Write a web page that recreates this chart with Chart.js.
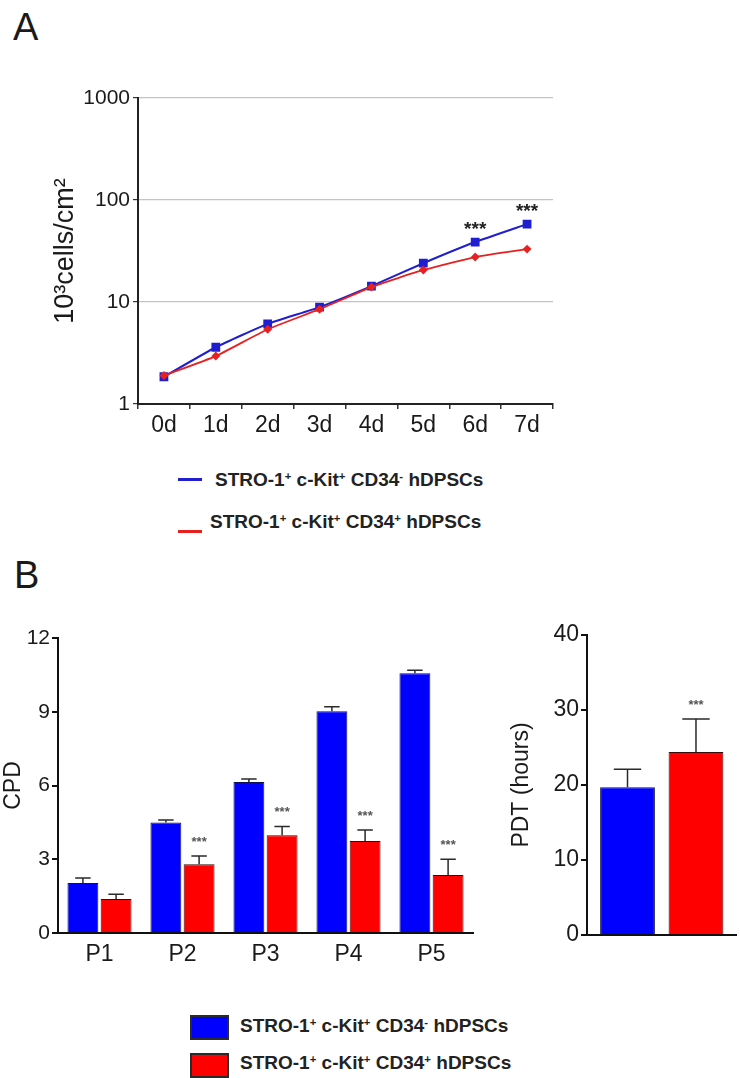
<!DOCTYPE html>
<html>
<head>
<meta charset="utf-8">
<script src="https://cdn.jsdelivr.net/npm/chart.js@4.4.1/dist/chart.umd.min.js"></script>
<style>
  body { margin: 0; background: #fff; font-family: 'Liberation Sans', Arial, sans-serif; color: #1a1a1a; }
  #page { position: relative; width: 740px; height: 1078px; overflow: hidden; }
  canvas { position: absolute; }
  .panel { position: absolute; font-size: 38px; line-height: 1; }
  .leg { position: absolute; font-weight: bold; font-size: 19px; line-height: 1; white-space: nowrap; color: #222; }
  .leg sup { font-size: 60%; vertical-align: 0.55em; line-height: 0; }
  .line { position: absolute; height: 3px; width: 24px; }
  .box { position: absolute; width: 35px; height: 21px; border: 2px solid #2a2a2a; }
</style>
</head>
<body>
<div id="page">
  <div class="panel" style="left:13px; top:8px;">A</div>
  <div class="panel" style="left:14px; top:556px;">B</div>

  <canvas id="growth" width="580" height="460" style="left:0; top:0;"></canvas>
  <canvas id="cpd" width="480" height="380" style="left:0; top:600px;"></canvas>
  <canvas id="pdt" width="240" height="380" style="left:500px; top:600px;"></canvas>

  <div class="line" style="left:178px; top:478px; background:#1f1fd0;"></div>
  <div class="leg" style="left:215px; top:470px;">STRO-1<sup>+</sup> c-Kit<sup>+</sup> CD34<sup>-</sup> hDPSCs</div>
  <div class="line" style="left:178px; top:530px; background:#e82020;"></div>
  <div class="leg" style="left:210px; top:512px;">STRO-1<sup>+</sup> c-Kit<sup>+</sup> CD34<sup>+</sup> hDPSCs</div>

  <div class="box" style="left:190px; top:1015px; background:#0000ff;"></div>
  <div class="leg" style="left:240px; top:1016px;">STRO-1<sup>+</sup> c-Kit<sup>+</sup> CD34<sup>-</sup> hDPSCs</div>
  <div class="box" style="left:190px; top:1053px; background:#ff0000;"></div>
  <div class="leg" style="left:240px; top:1053px;">STRO-1<sup>+</sup> c-Kit<sup>+</sup> CD34<sup>+</sup> hDPSCs</div>
</div>

<script>
'use strict';

// panel A: growth curve (10^3 cells/cm^2, log scale)
const days = ['0d', '1d', '2d', '3d', '4d', '5d', '6d', '7d'];
const growthNeg = [1.85, 3.6, 6.1, 8.9, 14.3, 24, 38.7, 58];
const growthPos = [1.9, 2.95, 5.4, 8.5, 14.0, 20.6, 27.6, 33];
const growthStars = ['', '', '', '', '', '', '***', '***'];
const growthTicks = [1, 10, 100, 1000];

// panel B left: cumulative population doublings
const passages = ['P1', 'P2', 'P3', 'P4', 'P5'];
const cpdNeg = [2.03, 4.5, 6.14, 9.02, 10.57];
const cpdNegErr = [0.21, 0.1, 0.12, 0.18, 0.12];
const cpdPos = [1.38, 2.8, 3.98, 3.74, 2.36];
const cpdPosErr = [0.2, 0.33, 0.35, 0.45, 0.64];
const cpdStars = ['', '***', '***', '***', '***'];

// panel B right: population doubling time
const pdtLabels = [''];
const pdtNeg = [19.7];
const pdtNegErr = [2.4];
const pdtPos = [24.4];
const pdtPosErr = [4.4];
const pdtStars = ['***'];

const BLUE = '#0000ff';
const RED = '#ff0000';
const INK = '#1a1a1a';

Chart.defaults.font.family = "'Liberation Sans', Arial, sans-serif";
Chart.defaults.color = INK;

const lineStarsPlugin = {
  id: 'lineStars',
  afterDatasetsDraw(chart) {
    const ctx = chart.ctx;
    chart.data.datasets.forEach((ds, i) => {
      if (!ds.stars) return;
      const meta = chart.getDatasetMeta(i);
      meta.data.forEach((pt, j) => {
        if (!ds.stars[j]) return;
        ctx.save();
        ctx.fillStyle = '#222';
        ctx.font = "bold 19px 'Liberation Sans', Arial, sans-serif";
        ctx.textAlign = 'center';
        ctx.textBaseline = 'middle';
        ctx.fillText(ds.stars[j], pt.x, pt.y - 12);
        ctx.restore();
      });
    });
  }
};

const errorBarPlugin = {
  id: 'errorBars',
  afterDatasetsDraw(chart) {
    const ctx = chart.ctx;
    const yScale = chart.scales.y;
    chart.data.datasets.forEach((ds, i) => {
      const meta = chart.getDatasetMeta(i);
      meta.data.forEach((bar, j) => {
        const top = yScale.getPixelForValue(ds.data[j] + ds.errors[j]);
        const cap = bar.width * 0.25;
        ctx.save();
        ctx.strokeStyle = '#2a2a2a';
        ctx.lineWidth = 1.5;
        ctx.beginPath();
        ctx.moveTo(bar.x, bar.y);
        ctx.lineTo(bar.x, top);
        ctx.moveTo(bar.x - cap, top);
        ctx.lineTo(bar.x + cap, top);
        ctx.stroke();
        if (ds.stars && ds.stars[j]) {
          ctx.fillStyle = '#555';
          ctx.font = "bold 13px 'Liberation Sans', Arial, sans-serif";
          ctx.textAlign = 'center';
          ctx.textBaseline = 'middle';
          ctx.fillText(ds.stars[j], bar.x, top - 14);
        }
        ctx.restore();
      });
    });
  }
};

new Chart(document.getElementById('growth'), {
  type: 'line',
  data: {
    labels: days,
    datasets: [
      {
        data: growthPos,
        borderColor: '#e82020',
        backgroundColor: '#e82020',
        borderWidth: 1.8,
        pointStyle: 'rectRot',
        pointRadius: 3.2,
        tension: 0.15
      },
      {
        data: growthNeg,
        stars: growthStars,
        borderColor: '#1f1fd0',
        backgroundColor: '#1f1fd0',
        borderWidth: 2,
        pointStyle: 'rect',
        pointRadius: 4.8,
        tension: 0.15
      }
    ]
  },
  options: {
    responsive: false,
    animation: false,
    layout: { padding: { top: 98, right: 27, left: 0, bottom: 0 } },
    plugins: { legend: { display: false }, tooltip: { enabled: false } },
    scales: {
      x: {
        offset: true,
        grid: { offset: true, drawOnChartArea: false, tickLength: 5, tickColor: '#333', lineWidth: 1.5 },
        border: { color: '#222', width: 2 },
        ticks: { padding: 3, font: { size: 23 }, color: INK },
        afterFit: (s) => { s.height = 56; }
      },
      y: {
        type: 'logarithmic',
        min: 1,
        max: 1000,
        afterBuildTicks: (s) => { s.ticks = growthTicks.map((v) => ({ value: v })); },
        grid: { color: '#c4c4c4', lineWidth: 1.2, tickLength: 5, tickColor: '#333' },
        border: { color: '#222', width: 2 },
        ticks: { padding: 3, font: { size: 21 }, color: INK, callback: (v) => String(v) },
        title: { display: true, text: '10³cells/cm²', font: { size: 27 }, color: INK, padding: { top: 49, bottom: 0 } },
        afterFit: (s) => { s.width = 138; }
      }
    }
  },
  plugins: [lineStarsPlugin]
});

new Chart(document.getElementById('cpd'), {
  type: 'bar',
  data: {
    labels: passages,
    datasets: [
      { data: cpdNeg, errors: cpdNegErr, backgroundColor: BLUE, borderColor: '#10104a', borderWidth: 1 },
      { data: cpdPos, errors: cpdPosErr, stars: cpdStars, backgroundColor: RED, borderColor: '#3a0a0a', borderWidth: 1 }
    ]
  },
  options: {
    responsive: false,
    animation: false,
    categoryPercentage: 0.8,
    barPercentage: 0.93,
    layout: { padding: { top: 38, right: 7, left: 0, bottom: 0 } },
    plugins: { legend: { display: false }, tooltip: { enabled: false } },
    scales: {
      x: {
        grid: { drawOnChartArea: false, drawTicks: false },
        border: { color: '#111', width: 2 },
        ticks: { padding: 8, font: { size: 23 }, color: INK },
        afterFit: (s) => { s.height = 47; }
      },
      y: {
        min: 0,
        max: 12,
        ticks: { stepSize: 3, padding: 2, font: { size: 21 }, color: INK },
        grid: { drawOnChartArea: false, tickLength: 6, tickColor: '#111', lineWidth: 2 },
        border: { color: '#111', width: 2 },
        title: { display: true, text: 'CPD', font: { size: 23 }, color: INK, padding: { top: 0, bottom: 0 } },
        afterFit: (s) => { s.width = 58; }
      }
    }
  },
  plugins: [errorBarPlugin]
});

new Chart(document.getElementById('pdt'), {
  type: 'bar',
  data: {
    labels: pdtLabels,
    datasets: [
      { data: pdtNeg, errors: pdtNegErr, backgroundColor: BLUE, borderColor: '#10104a', borderWidth: 1 },
      { data: pdtPos, errors: pdtPosErr, stars: pdtStars, backgroundColor: RED, borderColor: '#3a0a0a', borderWidth: 1 }
    ]
  },
  options: {
    responsive: false,
    animation: false,
    categoryPercentage: 0.916,
    barPercentage: 0.8,
    layout: { padding: { top: 35, right: 3.5, left: 0, bottom: 0 } },
    plugins: { legend: { display: false }, tooltip: { enabled: false } },
    scales: {
      x: {
        grid: { drawOnChartArea: false, drawTicks: false },
        border: { color: '#111', width: 2 },
        ticks: { display: false },
        afterFit: (s) => { s.height = 45; }
      },
      y: {
        min: 0,
        max: 40,
        ticks: { stepSize: 10, padding: 2, font: { size: 23 }, color: INK },
        grid: { drawOnChartArea: false, tickLength: 6, tickColor: '#111', lineWidth: 2 },
        border: { color: '#111', width: 2 },
        title: { display: true, text: 'PDT (hours)', font: { size: 23 }, color: INK, padding: { top: 8, bottom: 0 } },
        afterFit: (s) => { s.width = 87; }
      }
    }
  },
  plugins: [errorBarPlugin]
});
</script>
</body>
</html>
